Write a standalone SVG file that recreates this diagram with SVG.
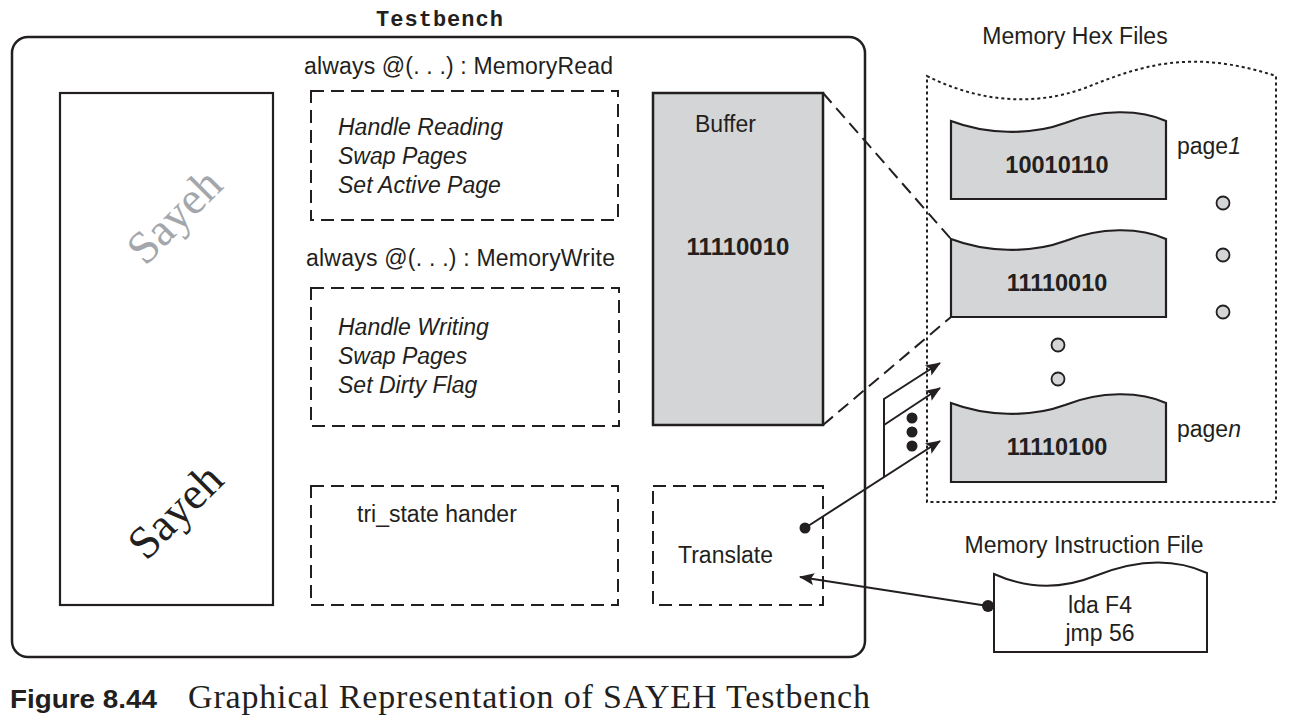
<svg xmlns="http://www.w3.org/2000/svg" width="1290" height="728" viewBox="0 0 1290 728">
<style>
.sans{font-family:"Liberation Sans",Arial,sans-serif;fill:#231f20}
.t23{font-size:23px}
.it{font-style:italic}
.b{font-weight:bold}
.dash{fill:none;stroke:#231f20;stroke-width:2;stroke-dasharray:13,7}
.dot{fill:none;stroke:#231f20;stroke-width:2;stroke-dasharray:3,3}
.page{fill:#d4d5d7;stroke:#231f20;stroke-width:2.2}
.ln{fill:none;stroke:#231f20;stroke-width:2}
.gc{fill:#d4d5d7;stroke:#231f20;stroke-width:1.8}
</style>
<defs>
<marker id="ah" markerWidth="15" markerHeight="12" refX="14" refY="6" orient="auto" markerUnits="userSpaceOnUse">
<path d="M0,0 L15,6 L0,12 L3,6 Z" fill="#231f20"/>
</marker>
</defs>
<rect width="1290" height="728" fill="#fff"/>

<g id="testbench">
<text x="376" y="26" textLength="127" font-family="'Liberation Mono','Courier New',monospace" font-weight="bold" font-size="22" fill="#231f20">Testbench</text>
<rect x="12" y="37" width="853" height="620" rx="16" ry="16" fill="none" stroke="#231f20" stroke-width="2.5"/>
</g>

<g id="sayeh">
<rect x="60" y="93" width="213" height="512" fill="none" stroke="#231f20" stroke-width="2.2"/>
<text transform="translate(175,217) rotate(-45)" x="0" y="14" text-anchor="middle" font-family="'Liberation Serif',serif" font-size="46" fill="#a3a7ab">Sayeh</text>
<text transform="translate(176,512) rotate(-45)" x="0" y="14" text-anchor="middle" font-family="'Liberation Serif',serif" font-size="46" fill="#231f20">Sayeh</text>
</g>

<g id="memoryread">
<text class="sans t23" x="304" y="74" textLength="309">always @(. . .) : MemoryRead</text>
<rect class="dash" x="311" y="91" width="307" height="129"/>
<text class="sans t23 it" x="338" y="135">Handle Reading</text>
<text class="sans t23 it" x="338" y="164">Swap Pages</text>
<text class="sans t23 it" x="338" y="193">Set Active Page</text>
</g>

<g id="memorywrite">
<text class="sans t23" x="306" y="266" textLength="309">always @(. . .) : MemoryWrite</text>
<rect class="dash" x="311" y="288" width="308" height="138"/>
<text class="sans t23 it" x="338" y="335">Handle Writing</text>
<text class="sans t23 it" x="338" y="364">Swap Pages</text>
<text class="sans t23 it" x="338" y="393">Set Dirty Flag</text>
</g>

<g id="buffer">
<rect x="653" y="93" width="170" height="332" fill="#d4d5d7" stroke="#231f20" stroke-width="2.5"/>
<text class="sans t23" x="695" y="132">Buffer</text>
<text class="sans b" font-size="24" x="738" y="255" text-anchor="middle">11110010</text>
</g>

<g id="tristate">
<rect class="dash" x="311" y="486" width="307" height="119"/>
<text class="sans t23" x="357" y="522">tri_state hander</text>
</g>

<g id="translate">
<rect class="dash" x="653" y="486" width="170" height="119"/>
<text class="sans t23" x="678" y="563">Translate</text>
</g>

<g id="hexfiles">
<text class="sans t23" x="1075" y="44" text-anchor="middle">Memory Hex Files</text>
<path class="dot" d="M927,76 C975,100 1030,108 1085,88 C1140,66 1190,48 1276,76 L1276,502 L927,502 Z"/>
</g>

<g id="page1">
<path class="page" d="M951,121 C985,134 1030,136 1065,123 C1100,109 1140,109 1166,121 L1166,199 L951,199 Z"/>
<text class="sans b" font-size="23.5" x="1057" y="173" text-anchor="middle">10010110</text>
<text class="sans t23" x="1177" y="154">page<tspan font-style="italic">1</tspan></text>
</g>

<g id="page2">
<path class="page" d="M951,239 C985,252 1030,254 1065,241 C1100,227 1140,227 1166,239 L1166,317 L951,317 Z"/>
<text class="sans b" font-size="23.5" x="1057" y="291" text-anchor="middle">11110010</text>
</g>

<g id="pagen">
<path class="page" d="M951,403 C985,416 1030,418 1065,405 C1100,391 1140,391 1166,403 L1166,482 L951,482 Z"/>
<text class="sans b" font-size="23.5" x="1057" y="455" text-anchor="middle">11110100</text>
<text class="sans t23" x="1177" y="437">page<tspan font-style="italic">n</tspan></text>
</g>

<g id="ellipsis">
<circle class="gc" cx="1223" cy="203" r="6.5"/>
<circle class="gc" cx="1223" cy="255" r="6.5"/>
<circle class="gc" cx="1223" cy="312" r="6.5"/>
<circle class="gc" cx="1058" cy="345" r="6.5"/>
<circle class="gc" cx="1058" cy="379" r="6.5"/>
</g>

<g id="instrfile">
<text class="sans t23" x="1084" y="553" text-anchor="middle">Memory Instruction File</text>
<path d="M994,574 C1025,588 1060,590 1095,576 C1130,562 1170,556 1207,573 L1207,652 L994,652 Z" fill="#fff" stroke="#231f20" stroke-width="2"/>
<text class="sans t23" x="1100" y="613" text-anchor="middle">lda F4</text>
<text class="sans t23" x="1100" y="641" text-anchor="middle">jmp 56</text>
</g>

<g id="connectors">
<line class="dash" x1="823" y1="93" x2="951" y2="239" stroke-dasharray="10,6"/>
<line class="dash" x1="823" y1="425" x2="951" y2="317" stroke-dasharray="10,6"/>
<line class="ln" x1="805" y1="528" x2="940" y2="441" marker-end="url(#ah)"/>
<polyline class="ln" points="884,477 884,399 940,363" marker-end="url(#ah)"/>
<line class="ln" x1="884" y1="425" x2="940" y2="388" marker-end="url(#ah)"/>
<circle cx="805" cy="528" r="5.5" fill="#231f20"/>
<circle cx="912" cy="418" r="5.5" fill="#231f20"/>
<circle cx="912" cy="432" r="5.5" fill="#231f20"/>
<circle cx="912" cy="446" r="5.5" fill="#231f20"/>
<line class="ln" x1="988" y1="606" x2="800" y2="577" marker-end="url(#ah)"/>
<circle cx="988" cy="606" r="6" fill="#231f20"/>
</g>

<g id="caption">
<text x="10" y="708" font-family="'Liberation Sans',Arial,sans-serif" font-weight="bold" font-size="26" textLength="147" lengthAdjust="spacingAndGlyphs" fill="#231f20">Figure 8.44</text>
<text x="188" y="708" font-family="'Liberation Serif',serif" font-size="34" textLength="682" fill="#231f20">Graphical Representation of SAYEH Testbench</text>
</g>
</svg>
